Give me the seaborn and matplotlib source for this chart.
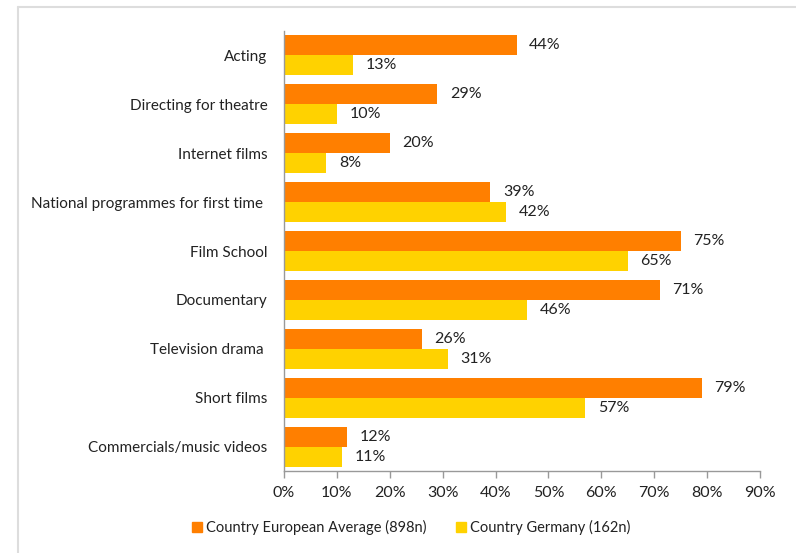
import matplotlib
matplotlib.use("Agg")
import matplotlib.pyplot as plt
import matplotlib.lines as mlines
import seaborn as sns
import pandas as pd

categories = [
    "Acting",
    "Directing for theatre",
    "Internet films",
    "National programmes for first time ",
    "Film School",
    "Documentary",
    "Television drama ",
    "Short films",
    "Commercials/music videos",
]
european_avg = [44, 29, 20, 39, 75, 71, 26, 79, 12]
germany = [13, 10, 8, 42, 65, 46, 31, 57, 11]
series_names = ["Country European Average (898n)", "Country Germany (162n)"]
x_ticks = [0, 10, 20, 30, 40, 50, 60, 70, 80, 90]

colors = ["#FF7F00", "#FFD200"]

df = pd.DataFrame({
    "category": categories * 2,
    "value": european_avg + germany,
    "series": [series_names[0]] * len(categories) + [series_names[1]] * len(categories),
})

sns.set_theme(style="white")
plt.rcParams["font.family"] = ["Lato", "DejaVu Sans"]

fig = plt.figure(figsize=(7.96, 5.53), dpi=100)
ax = fig.add_axes([0.3568, 0.1483, 0.598, 0.7956])

sns.barplot(data=df, x="value", y="category", hue="series", order=categories,
            hue_order=series_names, palette=colors, width=0.818, orient="h",
            saturation=1, linewidth=0, ax=ax, legend=False)

for container in ax.containers:
    ax.bar_label(container, labels=[f"{v:.0f}%" for v in container.datavalues],
                 padding=9, fontsize=11.5, color="#222222")

ax.set_xlim(0, 90)
ax.set_xticks(x_ticks)
ax.set_xticklabels([f"{t}%" for t in x_ticks], fontsize=11.5, color="#222222")
ax.set_ylim(len(categories) - 0.5, -0.5)
ax.set_xlabel("")
ax.set_ylabel("")
ax.tick_params(axis="y", labelsize=11, labelcolor="#222222", length=0, pad=12)
ax.tick_params(axis="x", length=5, width=1, color="#999999", direction="out", pad=6, bottom=True)

for side in ["top", "right"]:
    ax.spines[side].set_visible(False)
for side in ["left", "bottom"]:
    ax.spines[side].set_color("#999999")
    ax.spines[side].set_linewidth(1)

handles = [plt.Rectangle((0, 0), 1, 1, color=c) for c in colors]
fig.legend(handles, series_names, loc="center left", bbox_to_anchor=(0.225, 0.046),
           ncol=2, frameon=False, fontsize=10.5, handlelength=0.7, handleheight=0.7,
           handletextpad=0.25, columnspacing=2.0, labelcolor="#222222")

# light frame around the chart area
fig.add_artist(mlines.Line2D([18 / 796, 18 / 796], [0, 1 - 7 / 553],
                             transform=fig.transFigure, color="#dddddd", lw=1.5))
fig.add_artist(mlines.Line2D([18 / 796, 1], [1 - 7 / 553, 1 - 7 / 553],
                             transform=fig.transFigure, color="#dddddd", lw=1.5))

fig.savefig("out.png", dpi=100)
